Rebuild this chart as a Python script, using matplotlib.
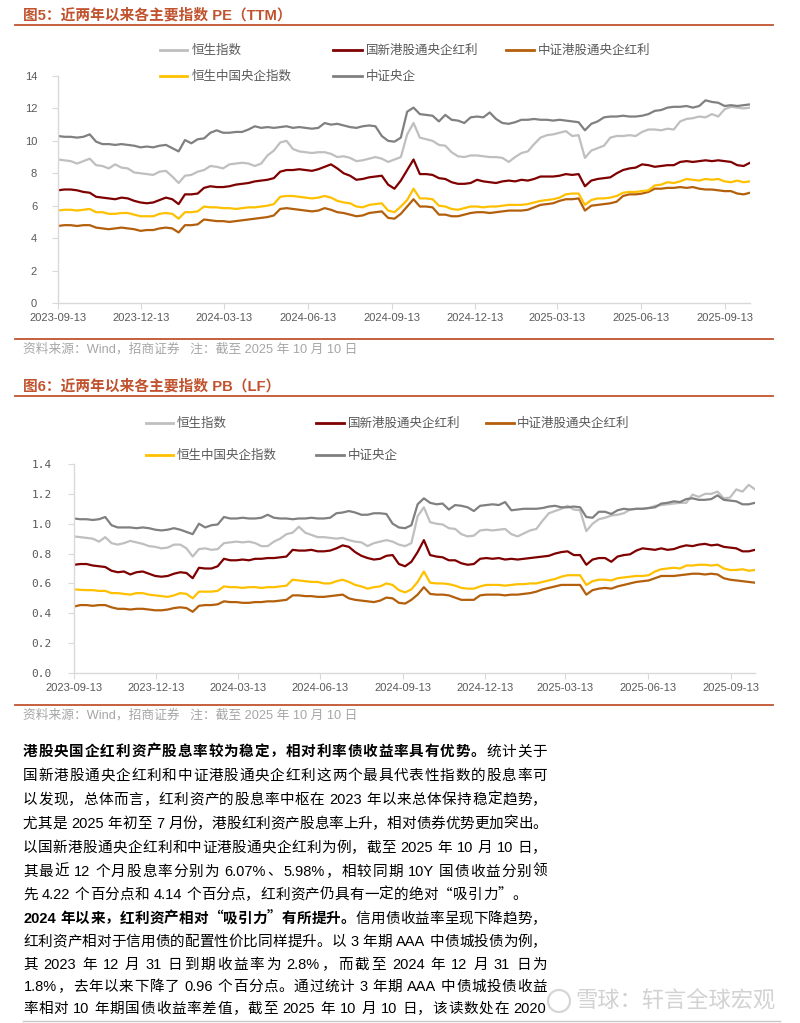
import re
import matplotlib
matplotlib.use('Agg')
import matplotlib.pyplot as plt
from matplotlib.lines import Line2D
from matplotlib.patches import Ellipse
import pandas as pd

W, H = 800, 1023
LATIN = 'Liberation Sans'
CJK = 'Noto Sans CJK SC'
plt.rcParams['font.family'] = [LATIN, CJK]
plt.rcParams['axes.unicode_minus'] = False

# ---- 数据 ---------------------------------------------------------------
dates = pd.date_range('2023-09-13', '2025-10-10', periods=110)
tick_labels = ['2023-09-13', '2023-12-13', '2024-03-13', '2024-06-13', '2024-09-13',
               '2024-12-13', '2025-03-13', '2025-06-13', '2025-09-13']
names = ['恒生指数', '国新港股通央企红利', '中证港股通央企红利', '恒生中国央企指数', '中证央企']
colors = ['#BFBFBF', '#7F0000', '#B35F0B', '#FFC000', '#808080']

pe_hsi = [8.85, 8.8, 8.75, 8.6, 8.75, 8.9, 8.5, 8.45, 8.3, 8.55,
          8.35, 8.3, 8.05, 8.0, 7.95, 7.9, 8.1, 8.15, 7.8, 7.4,
          7.85, 7.9, 8.1, 8.2, 8.45, 8.4, 8.3, 8.55, 8.6, 8.65,
          8.6, 8.45, 8.6, 9.1, 9.4, 9.9, 10.0, 9.5, 9.35, 9.3,
          9.25, 9.3, 9.3, 9.2, 9.0, 9.05, 8.95, 8.75, 8.8, 8.9,
          9.0, 8.9, 8.7, 8.85, 9.0, 10.4, 11.1, 10.2, 10.1, 10.0,
          9.75, 9.7, 9.3, 9.05, 9.0, 9.1, 9.1, 9.05, 9.0, 9.0,
          8.95, 8.7, 9.0, 9.25, 9.35, 9.8, 10.2, 10.35, 10.4, 10.5,
          10.6, 10.3, 10.35, 8.95, 9.4, 9.55, 9.7, 10.2, 10.3, 10.3,
          10.35, 10.3, 10.55, 10.7, 10.7, 10.65, 10.75, 10.7, 11.2, 11.35,
          11.4, 11.5, 11.45, 11.65, 11.5, 11.95, 12.1, 12.05, 12.0, 12.05]
pe_gx = [6.95, 7.0, 7.0, 6.95, 6.85, 6.8, 6.55, 6.5, 6.45, 6.4,
         6.5, 6.45, 6.3, 6.2, 6.15, 6.2, 6.35, 6.5, 6.4, 6.1,
         6.7, 6.7, 6.75, 7.1, 7.2, 7.15, 7.15, 7.2, 7.3, 7.35,
         7.4, 7.5, 7.55, 7.6, 7.7, 8.1, 8.2, 8.2, 8.25, 8.2,
         8.15, 8.25, 8.4, 8.55, 8.3, 8.0, 7.85, 7.6, 7.65, 7.75,
         7.8, 7.85, 7.3, 7.05, 7.55, 8.2, 8.85, 7.95, 7.95, 7.9,
         7.7, 7.65, 7.45, 7.35, 7.35, 7.4, 7.6, 7.5, 7.45, 7.4,
         7.5, 7.55, 7.5, 7.6, 7.55, 7.65, 7.8, 7.8, 7.8, 7.85,
         7.95, 7.9, 7.95, 7.2, 7.55, 7.65, 7.7, 7.75, 8.0, 8.2,
         8.3, 8.35, 8.55, 8.5, 8.4, 8.45, 8.5, 8.5, 8.7, 8.75,
         8.7, 8.75, 8.8, 8.75, 8.8, 8.75, 8.7, 8.5, 8.45, 8.65]
pe_zzhk = [4.75, 4.8, 4.8, 4.75, 4.8, 4.8, 4.65, 4.6, 4.55, 4.6,
           4.65, 4.6, 4.55, 4.45, 4.5, 4.5, 4.6, 4.65, 4.6, 4.35,
           4.8, 4.8, 4.85, 5.15, 5.1, 5.05, 5.05, 5.0, 5.05, 5.1,
           5.15, 5.2, 5.25, 5.3, 5.4, 5.8, 5.85, 5.8, 5.75, 5.7,
           5.65, 5.7, 5.85, 5.75, 5.6, 5.55, 5.45, 5.35, 5.4, 5.55,
           5.6, 5.65, 5.25, 5.2, 5.5, 5.95, 6.4, 5.95, 5.95, 5.9,
           5.45, 5.45, 5.35, 5.35, 5.45, 5.55, 5.6, 5.6, 5.55, 5.6,
           5.65, 5.7, 5.7, 5.7, 5.75, 5.9, 6.05, 6.1, 6.15, 6.3,
           6.4, 6.4, 6.45, 5.7, 6.0, 6.05, 6.1, 6.15, 6.25, 6.6,
           6.7, 6.7, 6.75, 6.85, 7.05, 7.05, 7.1, 7.1, 7.15, 7.1,
           7.15, 7.05, 7.0, 7.0, 6.95, 6.9, 6.9, 6.75, 6.7, 6.8]
pe_hscei = [5.7, 5.75, 5.75, 5.7, 5.75, 5.8, 5.6, 5.6, 5.5, 5.5,
            5.55, 5.55, 5.45, 5.35, 5.35, 5.35, 5.5, 5.55, 5.5, 5.2,
            5.6, 5.6, 5.65, 5.95, 5.9, 5.9, 5.85, 5.85, 5.8, 5.85,
            5.9, 5.9, 5.95, 6.0, 6.1, 6.55, 6.6, 6.6, 6.55, 6.5,
            6.45, 6.5, 6.6, 6.5, 6.3, 6.2, 6.15, 5.95, 5.9, 6.05,
            6.1, 6.15, 5.7, 5.6, 5.95, 6.35, 7.05, 6.45, 6.45, 6.4,
            6.0, 5.95, 5.8, 5.75, 5.85, 5.95, 5.95, 5.9, 5.95, 5.95,
            6.0, 6.05, 6.05, 6.05, 6.1, 6.2, 6.3, 6.35, 6.4, 6.5,
            6.7, 6.75, 6.75, 6.05, 6.35, 6.45, 6.45, 6.5, 6.6, 6.8,
            6.85, 6.85, 6.9, 6.95, 7.25, 7.3, 7.45, 7.4, 7.5, 7.65,
            7.6, 7.55, 7.65, 7.6, 7.65, 7.5, 7.45, 7.55, 7.45, 7.5]
pe_zzyq = [10.3, 10.25, 10.25, 10.2, 10.25, 10.4, 9.95, 9.8, 9.8, 9.75,
           9.8, 9.75, 9.7, 9.6, 9.65, 9.6, 9.7, 9.75, 9.55, 9.35,
           10.05, 9.85, 10.1, 10.15, 10.5, 10.65, 10.5, 10.5, 10.55, 10.55,
           10.7, 10.9, 10.8, 10.85, 10.8, 10.85, 10.9, 10.8, 10.85, 10.8,
           10.75, 10.8, 11.1, 11.0, 11.05, 10.95, 10.85, 10.8, 10.9, 10.95,
           10.9, 10.3, 10.0, 9.95, 10.2, 11.8, 12.05, 11.65, 11.6, 11.55,
           11.2, 11.6, 11.3, 11.25, 11.1, 11.45, 11.5, 11.45, 11.75, 11.35,
           11.1, 11.05, 11.15, 11.3, 11.3, 11.35, 11.3, 11.3, 11.25, 11.3,
           11.25, 11.2, 11.15, 10.65, 11.05, 11.2, 11.45, 11.5, 11.5, 11.55,
           11.5, 11.5, 11.55, 11.65, 11.85, 11.9, 12.05, 12.1, 12.1, 12.15,
           12.05, 12.15, 12.5, 12.4, 12.35, 12.15, 12.2, 12.15, 12.2, 12.25]

pb_hsi = [0.915, 0.91, 0.905, 0.9, 0.88, 0.91, 0.87, 0.86, 0.87, 0.885,
          0.875, 0.865, 0.85, 0.845, 0.835, 0.84, 0.86, 0.86, 0.835, 0.78,
          0.83, 0.835, 0.825, 0.83, 0.87, 0.875, 0.88, 0.875, 0.88, 0.87,
          0.85, 0.85, 0.88, 0.9, 0.93, 0.94, 0.98, 0.94, 0.925, 0.91,
          0.91, 0.905, 0.9, 0.905, 0.89, 0.88, 0.875, 0.85, 0.87, 0.88,
          0.89, 0.88, 0.86, 0.85, 0.87, 1.05, 1.11, 1.01, 1.0, 0.995,
          0.97, 0.965, 0.93, 0.915, 0.92, 0.955, 0.96, 0.955, 0.96, 0.965,
          0.93, 0.915, 0.935, 0.955, 0.965, 1.02, 1.07, 1.085, 1.1, 1.12,
          1.095, 1.09, 0.95, 1.0, 1.03, 1.04, 1.055, 1.06, 1.07, 1.095,
          1.1, 1.1, 1.105, 1.12, 1.125, 1.13, 1.135, 1.14, 1.14, 1.195,
          1.18, 1.2, 1.2, 1.215, 1.17, 1.175, 1.23, 1.215, 1.26, 1.23]
pb_gx = [0.725, 0.73, 0.73, 0.72, 0.715, 0.71, 0.685, 0.675, 0.68, 0.66,
         0.675, 0.68, 0.665, 0.65, 0.645, 0.65, 0.665, 0.675, 0.67, 0.635,
         0.705, 0.7, 0.7, 0.715, 0.765, 0.755, 0.755, 0.76, 0.755, 0.765,
         0.765, 0.77, 0.77, 0.775, 0.78, 0.825, 0.82, 0.82, 0.825, 0.815,
         0.815, 0.82, 0.835, 0.855, 0.845, 0.81, 0.785, 0.77, 0.76, 0.765,
         0.785, 0.79, 0.73, 0.715, 0.745, 0.81, 0.89, 0.79, 0.78, 0.775,
         0.755, 0.755, 0.735, 0.725, 0.73, 0.765, 0.77, 0.765, 0.77, 0.76,
         0.765, 0.76, 0.765, 0.77, 0.775, 0.78, 0.785, 0.8, 0.81, 0.815,
         0.79, 0.79, 0.725, 0.76, 0.77, 0.77, 0.745, 0.78, 0.79, 0.795,
         0.82, 0.835, 0.83, 0.825, 0.835, 0.825, 0.83, 0.845, 0.855, 0.85,
         0.86, 0.865, 0.855, 0.86, 0.845, 0.84, 0.835, 0.815, 0.815, 0.825]
pb_zzhk = [0.445, 0.455, 0.455, 0.45, 0.455, 0.455, 0.44, 0.43, 0.43, 0.425,
           0.43, 0.43, 0.425, 0.42, 0.42, 0.425, 0.435, 0.44, 0.435, 0.41,
           0.45, 0.455, 0.455, 0.46, 0.48, 0.475, 0.475, 0.47, 0.47, 0.475,
           0.475, 0.48, 0.48, 0.485, 0.49, 0.52, 0.52, 0.515, 0.515, 0.51,
           0.51, 0.515, 0.52, 0.525, 0.5, 0.49, 0.485, 0.48, 0.475, 0.485,
           0.505, 0.5, 0.47, 0.465, 0.49, 0.525, 0.575, 0.53, 0.525, 0.525,
           0.52, 0.505, 0.49, 0.49, 0.49, 0.52, 0.525, 0.525, 0.525, 0.52,
           0.525, 0.525, 0.53, 0.535, 0.545, 0.56, 0.57, 0.58, 0.59, 0.59,
           0.59, 0.59, 0.525, 0.555, 0.565, 0.57, 0.565, 0.58, 0.59, 0.6,
           0.61, 0.615, 0.62, 0.635, 0.65, 0.65, 0.65, 0.655, 0.66, 0.665,
           0.665, 0.66, 0.665, 0.66, 0.635, 0.625, 0.62, 0.615, 0.61, 0.605]
pb_hscei = [0.56, 0.557, 0.555, 0.555, 0.55, 0.55, 0.535, 0.535, 0.53, 0.525,
            0.535, 0.535, 0.525, 0.52, 0.515, 0.51, 0.52, 0.535, 0.53, 0.5,
            0.545, 0.545, 0.545, 0.55, 0.58, 0.575, 0.575, 0.57, 0.575, 0.575,
            0.57, 0.575, 0.575, 0.58, 0.585, 0.625, 0.62, 0.615, 0.61, 0.61,
            0.6, 0.6, 0.615, 0.625, 0.61, 0.59, 0.58, 0.565, 0.575, 0.58,
            0.6, 0.59, 0.555, 0.54, 0.56, 0.61, 0.68, 0.605, 0.6, 0.6,
            0.595, 0.585, 0.57, 0.565, 0.565, 0.58, 0.59, 0.59, 0.59, 0.585,
            0.59, 0.595, 0.595, 0.6, 0.6, 0.61, 0.62, 0.63, 0.645, 0.655,
            0.655, 0.655, 0.59, 0.615, 0.625, 0.625, 0.62, 0.635, 0.64, 0.645,
            0.65, 0.65, 0.655, 0.68, 0.695, 0.7, 0.705, 0.7, 0.72, 0.72,
            0.725, 0.725, 0.72, 0.725, 0.7, 0.69, 0.69, 0.695, 0.685, 0.69]
pb_zzyq = [1.035, 1.03, 1.03, 1.025, 1.03, 1.045, 0.99, 0.975, 0.975, 0.975,
           0.97, 0.975, 0.97, 0.96, 0.955, 0.96, 0.97, 0.96, 0.945, 0.93,
           1.0, 0.975, 0.99, 0.995, 1.045, 1.035, 1.035, 1.04, 1.035, 1.035,
           1.04, 1.06, 1.04, 1.035, 1.035, 1.03, 1.035, 1.035, 1.04, 1.035,
           1.035, 1.04, 1.07, 1.075, 1.085, 1.075, 1.06, 1.06, 1.07, 1.07,
           1.065, 1.0, 0.975, 0.97, 0.99, 1.13, 1.17, 1.14, 1.13, 1.135,
           1.095, 1.125, 1.12, 1.11, 1.085, 1.12, 1.125, 1.13, 1.125, 1.145,
           1.09, 1.095, 1.1, 1.1, 1.1, 1.105, 1.115, 1.12, 1.11, 1.11,
           1.115, 1.11, 1.045, 1.04, 1.08, 1.08, 1.065, 1.09, 1.1, 1.095,
           1.1, 1.1, 1.105, 1.11, 1.135, 1.14, 1.15, 1.145, 1.165, 1.17,
           1.16, 1.16, 1.165, 1.19, 1.16, 1.155, 1.15, 1.13, 1.13, 1.14]

pe_ticks = [0, 2, 4, 6, 8, 10, 12, 14]
pb_ticks = [0.0, 0.2, 0.4, 0.6, 0.8, 1.0, 1.2, 1.4]

para1 = [
    [('港股央国企红利资产股息率较为稳定，相对利率债收益率具有优势。', True), ('统计关于', False)],
    [('国新港股通央企红利和中证港股通央企红利这两个最具代表性指数的股息率可', False)],
    [('以发现，总体而言，红利资产的股息率中枢在 2023 年以来总体保持稳定趋势，', False)],
    [('尤其是 2025 年初至 7 月份，港股红利资产股息率上升，相对债券优势更加突出。', False)],
    [('以国新港股通央企红利和中证港股通央企红利为例，截至 2025 年 10 月 10 日，', False)],
    [('其最近 12 个月股息率分别为 6.07%、5.98%，相较同期 10Y 国债收益分别领', False)],
    [('先 4.22 个百分点和 4.14 个百分点，红利资产仍具有一定的绝对“吸引力”。', False)],
]
para2 = [
    [('2024 年以来，红利资产相对“吸引力”有所提升。', True), ('信用债收益率呈现下降趋势，', False)],
    [('红利资产相对于信用债的配置性价比同样提升。以 3 年期 AAA 中债城投债为例，', False)],
    [('其 2023 年 12 月 31 日到期收益率为 2.8%，而截至 2024 年 12 月 31 日为', False)],
    [('1.8%，去年以来下降了 0.96 个百分点。通过统计 3 年期 AAA 中债城投债收益', False)],
    [('率相对 10 年期国债收益率差值，截至 2025 年 10 月 10 日，该读数处在 2020', False)],
]

# ---- 画布 ---------------------------------------------------------------
fig = plt.figure(figsize=(W / 100, H / 100), dpi=100)
renderer = fig.canvas.get_renderer()
RED = '#C0532E'
GRAY_TXT = '#595959'


def fx(x):
    return x / W


def fy(y):
    return 1 - y / H


def hline(x0, x1, y, color, lw):
    fig.add_artist(Line2D([fx(x0), fx(x1)], [fy(y), fy(y)], color=color, lw=lw,
                          transform=fig.transFigure))


def draw_chart(box, series, ticks, labels, ylab_font, ypad):
    left, top, right, bottom = box
    ax = fig.add_axes([fx(left), fy(bottom), (right - left) / W, (bottom - top) / H])
    for vals, c in zip(series, colors):
        ax.plot(dates, vals, color=c, lw=1.6, solid_joinstyle='round')
    ax.set_xlim(dates[0], dates[-1])
    ax.set_ylim(ticks[0], ticks[-1])
    ax.set_yticks(ticks)
    ax.set_yticklabels(labels, family=ylab_font)
    ax.set_xticks(pd.to_datetime(tick_labels))
    ax.set_xticklabels(tick_labels)
    for s in ['top', 'right']:
        ax.spines[s].set_visible(False)
    for s in ['left', 'bottom']:
        ax.spines[s].set_color('#D9D9D9')
        ax.spines[s].set_linewidth(1)
    ax.tick_params(axis='both', colors='#D9D9D9', labelcolor=GRAY_TXT, labelsize=8, length=4)
    ax.tick_params(axis='y', pad=ypad)
    ax.tick_params(axis='x', pad=3)
    ax.patch.set_alpha(0)
    return ax


def draw_legend(rows, cols):
    slots = [(0, 0), (0, 1), (0, 2), (1, 0), (1, 1)]
    for (r, c), name, color in zip(slots, names, colors):
        x0, x1, xt = cols[c]
        y = rows[r]
        fig.add_artist(Line2D([fx(x0), fx(x1)], [fy(y), fy(y)], color=color, lw=2,
                              transform=fig.transFigure))
        fig.text(fx(xt), fy(y), name, fontsize=9, family=CJK, color=GRAY_TXT,
                 ha='left', va='center')


SOURCE = '资料来源：Wind，招商证券   注：截至 2025 年 10 月 10 日'

# 图5 PE
fig.text(fx(23), fy(15), '图5：近两年以来各主要指数 PE（TTM）', fontsize=10.6,
         fontweight='bold', color=RED, ha='left', va='center')
hline(15, 773, 25, RED, 1.3)
draw_legend([50, 76], [(160, 187, 192), (333, 362, 366), (506, 534, 538)])
draw_chart((58, 76, 750, 303), [pe_hsi, pe_gx, pe_zzhk, pe_hscei, pe_zzyq],
           pe_ticks, [str(t) for t in pe_ticks], LATIN, 11)
hline(15, 773, 339, RED, 1.3)
fig.text(fx(23), fy(349), SOURCE, fontsize=9.2, color='#A6A6A6', ha='left', va='center')

# 图6 PB
fig.text(fx(23), fy(386), '图6：近两年以来各主要指数 PB（LF）', fontsize=10.6,
         fontweight='bold', color=RED, ha='left', va='center')
hline(15, 773, 396, RED, 1.3)
draw_legend([423, 455], [(146, 173, 177), (316, 344, 348), (486, 514, 517)])
draw_chart((74, 464, 755, 673), [pb_hsi, pb_gx, pb_zzhk, pb_hscei, pb_zzyq],
           pb_ticks, ['%.1f' % t for t in pb_ticks], 'DejaVu Sans Mono', 12)
hline(15, 773, 705, RED, 1.3)
fig.text(fx(23), fy(715), SOURCE, fontsize=9.2, color='#A6A6A6', ha='left', va='center')

# ---- 正文 (两端对齐) ------------------------------------------------------
PUNCT_L = '，。、：；”）'
PUNCT_R = '“（'


def body_line(segments, x0, y, width, size=10.5):
    em = size * 100 / 72
    items = []
    for text, bold in segments:
        for m in re.finditer(r'[A-Za-z0-9.%]+| +|.', text):
            tok = m.group()
            if tok.isspace():
                items.append(['sp', tok, bold, 0.25 * em * len(tok)])
            elif re.match(r'[A-Za-z0-9.%]', tok):
                t = fig.text(0, 0, tok, fontsize=size, family=LATIN,
                             fontweight='bold' if bold else 'normal')
                w = t.get_window_extent(renderer=renderer).width
                t.remove()
                items.append(['lat', tok, bold, w + 0.08 * em])
            else:
                items.append(['cjk', tok, bold, em])
    words = [it for it in items if it[0] != 'sp']
    natural = sum(it[3] for it in items)
    extra = max((width - natural) / max(len(words) - 1, 1), 0)
    base = y + 0.38 * em
    x = x0
    first = True
    for kind, tok, bold, w in items:
        if kind == 'sp':
            x += w
            continue
        if not first:
            x += extra
        first = False
        wt = 'bold' if bold else 'normal'
        if kind == 'lat':
            fig.text(fx(x + 0.04 * em), fy(base), tok, fontsize=size, family=LATIN,
                     fontweight=wt, color='black', ha='left', va='baseline')
        else:
            if tok in PUNCT_L:
                xp, ha = x, 'left'
            elif tok in PUNCT_R:
                xp, ha = x + w, 'right'
            else:
                xp, ha = x + 0.5 * em, 'center'
            fig.text(fx(xp), fy(base), tok, fontsize=size, family=CJK,
                     fontweight=wt, color='black', ha=ha, va='baseline')
        x += w


ys1 = [750, 774, 798, 822, 846, 870, 893]
widths1 = [524, 524, 524, 524, 524, 524, 504]
for line, y, w in zip(para1, ys1, widths1):
    body_line(line, 23, y, w)

ys2 = [917, 940, 963, 985, 1007]
for line, y in zip(para2, ys2):
    body_line(line, 23, y, 524)

hline(23, 780, 1021, '#C8C8C8', 1)
fig.add_artist(Ellipse((fx(559), fy(1001)), 22 / W, 22 / H, fill=False,
                       ec='#D6D6D6', lw=1.6, transform=fig.transFigure))
fig.text(fx(575), fy(1001), '雪球：轩言全球宏观', fontsize=16, family=CJK,
         color='#D2D2D2', ha='left', va='center')

fig.savefig('out.png', dpi=100)
